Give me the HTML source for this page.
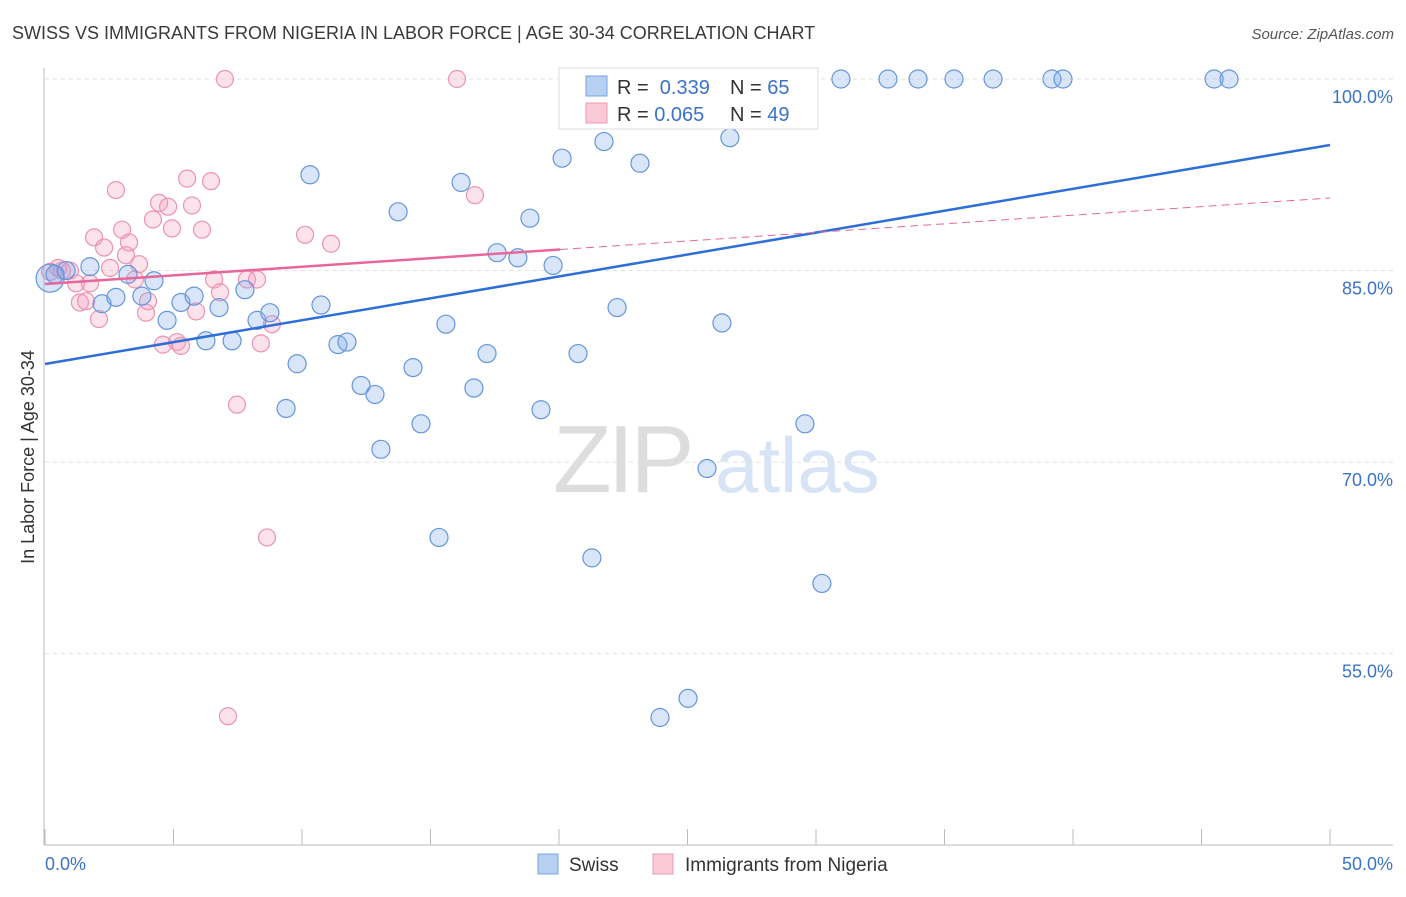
<!DOCTYPE html>
<html><head><meta charset="utf-8"><style>
body{margin:0;background:#fff;font-family:"Liberation Sans",sans-serif;}
svg text{font-family:"Liberation Sans",sans-serif;}
</style></head><body>
<svg id="chart" width="1406" height="892" viewBox="0 0 1406 892" xmlns="http://www.w3.org/2000/svg">
<text x="12" y="39" font-size="18" fill="#3a3a3a">SWISS VS IMMIGRANTS FROM NIGERIA IN LABOR FORCE | AGE 30-34 CORRELATION CHART</text>
<text x="1394" y="39" font-size="15" fill="#555" text-anchor="end" font-style="italic">Source: ZipAtlas.com</text>
<g><text x="553" y="492" font-size="96" fill="#ddd" font-family="Liberation Serif" letter-spacing="-4">ZIP</text><text x="715" y="492" font-size="78" fill="#d6e4f5">atlas</text></g>
<g id="grid"></g><g id="axes"></g><g id="pts"></g><g id="lines"></g>
<g>
<rect x="559" y="68" width="259" height="61" fill="#fff" stroke="#ddd"/>
<rect x="586" y="76" width="21" height="20" fill="#b7d0f2" stroke="#7aa4e0"/>
<rect x="586" y="103" width="21" height="20" fill="#fbc9d8" stroke="#ee9ab4"/>
<text x="617" y="94" font-size="20" fill="#333">R = <tspan fill="#3b73c8">&#160;0.339</tspan></text>
<text x="730" y="94" font-size="20" fill="#333">N = <tspan fill="#3b73c8">65</tspan></text>
<text x="617" y="121" font-size="20" fill="#333">R = <tspan fill="#3b73c8">0.065</tspan></text>
<text x="730" y="121" font-size="20" fill="#333">N = <tspan fill="#3b73c8">49</tspan></text>
</g>
<g>
<rect x="538" y="854" width="20" height="20" fill="#b7d0f2" stroke="#7aa4e0"/>
<text x="569" y="871" font-size="19" fill="#333">Swiss</text>
<rect x="653" y="854" width="20" height="20" fill="#fbc9d8" stroke="#ee9ab4"/>
<text x="685" y="871" font-size="19" fill="#333">Immigrants from Nigeria</text>
</g>
<text transform="translate(34,457) rotate(-90)" font-size="18" fill="#333" text-anchor="middle">In Labor Force | Age 30-34</text>
</svg>
<script>
const swissX=[0.2,0.39,0.82,1.75,2.22,2.76,3.23,3.77,4.24,4.75,5.29,5.80,6.26,6.77,7.28,7.78,8.25,8.75,9.38,9.81,10.31,10.74,11.40,11.75,12.30,12.84,13.07,13.74,14.32,14.63,15.33,15.60,16.19,16.69,17.20,17.59,18.40,18.87,19.30,19.77,20.12,20.74,21.28,21.75,22.26,22.68,23.15,23.93,24.44,25.02,25.37,25.76,26.34,26.65,29.57,30.23,30.97,32.80,33.97,35.37,36.89,39.18,39.61,45.49,46.07];
const swissY=[84.4,84.7,85.0,85.3,82.4,82.9,84.7,83.0,84.2,81.1,82.5,83.0,79.5,82.1,79.5,83.5,81.1,81.7,74.2,77.7,92.5,82.3,79.2,79.4,76.0,75.3,71.0,89.6,77.4,73.0,64.1,80.8,91.9,75.8,78.5,86.4,86.0,89.1,74.1,85.4,93.8,78.5,62.5,95.1,82.1,100,93.4,50.0,100,51.5,100,69.5,80.9,95.4,73.0,60.5,100,100,100,100,100,100,100,100,100];
const nigX=[0.2,0.51,0.66,0.97,1.21,1.36,1.60,1.75,1.91,2.10,2.30,2.53,2.76,3.0,3.15,3.27,3.50,3.66,3.93,4.01,4.20,4.44,4.59,4.79,4.94,5.14,5.29,5.53,5.72,5.88,6.11,6.46,6.58,6.81,7.0,7.12,7.47,7.86,8.25,8.40,8.64,8.83,10.12,11.13,16.03,16.73];
const nigY=[84.9,85.2,85.0,85.0,84.0,82.5,82.6,84.0,87.6,81.2,86.8,85.2,91.3,88.2,86.2,87.2,84.3,85.5,81.7,82.6,89.0,90.3,79.2,90.0,88.3,79.4,79.1,92.2,90.1,81.8,88.2,92.0,84.3,83.3,100,50.1,74.5,84.3,84.3,79.3,64.1,80.8,87.8,87.1,100,90.9];
const swissTrend=[77.68,94.83];
const nigTrend=[83.95,90.68];
const nigSolidEnd=20.04;
const yTicks=[100,85,70,55];
const xTicks=[0,5,10,15,20,25,30,35,40,45,50];

const NS="http://www.w3.org/2000/svg";
const X=v=>45+v*25.7;
const Y=v=>79+(100-v)*12.77;
function mk(tag,attrs,parent){const e=document.createElementNS(NS,tag);for(const k in attrs)e.setAttribute(k,attrs[k]);document.getElementById(parent).appendChild(e);return e;}
yTicks.forEach(t=>{
 const l=mk('line',{x1:45,x2:1393,y1:Y(t),y2:Y(t),stroke:'#e2e2e2','stroke-dasharray':'4,4'},'grid');
 
 
 const tx=mk('text',{x:1393,y:Y(t)+24,'font-size':18,fill:'#3b73c8','text-anchor':'end'},'grid');
 tx.textContent=t.toFixed(1)+'%';
 
 
});
mk('line',{x1:44,x2:44,y1:68,y2:845,stroke:'#bbb'},'axes');
mk('line',{x1:44,x2:1393,y1:845,y2:845,stroke:'#bbb'},'axes');
xTicks.forEach(t=>{const l=mk('line',{x1:X(t),x2:X(t),y1:829,y2:845,stroke:'#bbb'},'axes');
 
 });
const xl0=mk('text',{x:45,y:870,'font-size':18,fill:'#3b73c8'},'axes');xl0.textContent='0.0%';


const xl1=mk('text',{x:1393,y:870,'font-size':18,fill:'#3b73c8','text-anchor':'end'},'axes');xl1.textContent='50.0%';


nigX.forEach((v,i)=>{const c=mk('circle',{cx:X(v),cy:Y(nigY[i]),r:8.5,fill:'rgba(246,160,190,0.3)',stroke:'#ec93b0','stroke-width':1.2},'pts');
 
 });
swissX.forEach((v,i)=>{const c=mk('circle',{cx:X(v),cy:Y(swissY[i]),r:i==0?14:9,fill:'rgba(130,170,235,0.3)',stroke:'#6496dc','stroke-width':1.2},'pts');
 
 });
const bl=mk('line',{x1:X(0),y1:Y(swissTrend[0]),x2:X(50),y2:Y(swissTrend[1]),stroke:'#2d6fd6','stroke-width':2.5},'lines');


const pe=nigTrend[0]+(nigTrend[1]-nigTrend[0])*nigSolidEnd/50;
const pl=mk('line',{x1:X(0),y1:Y(nigTrend[0]),x2:X(nigSolidEnd),y2:Y(pe),stroke:'#e8679a','stroke-width':2.5},'lines');


const pd=mk('line',{x1:X(nigSolidEnd),y1:Y(pe),x2:X(50),y2:Y(nigTrend[1]),stroke:'#e8679a','stroke-width':1,'stroke-dasharray':'8,5'},'lines');


</script>
</body></html>
